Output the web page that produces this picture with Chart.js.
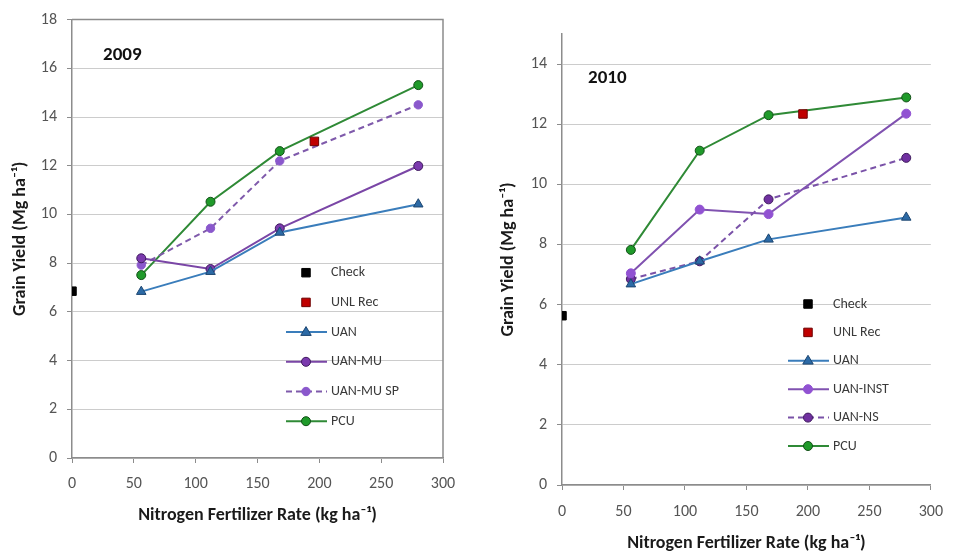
<!DOCTYPE html>
<html>
<head>
<meta charset="utf-8">
<script src="https://cdn.jsdelivr.net/npm/chart.js@4.4.1/dist/chart.umd.min.js"></script>
<style>
  body { margin: 0; background: #fff; }
  #wrap { position: relative; width: 955px; height: 552px; }
  #c2009 { position: absolute; left: 0; top: 0; }
  #c2010 { position: absolute; left: 480px; top: 0; }
</style>
</head>
<body>
<div id="wrap">
  <canvas id="c2009" width="480" height="552"></canvas>
  <canvas id="c2010" width="475" height="552"></canvas>
</div>
<script>
// DATA
const rates = [56, 112, 168, 280];
const xTicks = [0, 50, 100, 150, 200, 250, 300];

const check2009 = [6.85];
const unlRate2009 = [196];
const unlYield2009 = [13.0];
const uan2009 = [6.83, 7.65, 9.26, 10.42];
const uanMu2009 = [8.2, 7.76, 9.43, 11.99];
const uanMuSp2009 = [7.92, 9.43, 12.2, 14.5];
const pcu2009 = [7.51, 10.52, 12.6, 15.31];

const check2010 = [5.63];
const unlRate2010 = [196];
const unlYield2010 = [12.34];
const uan2010 = [6.68, 7.44, 8.17, 8.9];
const uanInst2010 = [7.04, 9.16, 9.01, 12.35];
const uanNs2010 = [6.85, 7.44, 9.5, 10.88];
const pcu2010 = [7.82, 11.12, 12.3, 12.89];

const FONT = "Carlito, Lato, 'Open Sans', sans-serif";
const GRID = '#cccccc';
const AXIS = '#8c8c8c';

const pts = (xs, ys) => ys.map((y, i) => ({ x: xs[i], y: y }));

// marker drawer used by the legend
function drawMarker(ctx, o, x, y) {
  const r = o.pointRadius;
  ctx.save();
  ctx.fillStyle = o.pointBackgroundColor;
  ctx.strokeStyle = o.pointBorderColor;
  ctx.lineWidth = o.pointBorderWidth;
  ctx.setLineDash([]);
  ctx.beginPath();
  if (o.pointStyle === 'rect') {
    const s = Math.SQRT1_2 * r;
    ctx.rect(x - s, y - s, 2 * s, 2 * s);
  } else if (o.pointStyle === 'triangle') {
    ctx.moveTo(x, y - r);
    ctx.lineTo(x + r * 0.95, y + r * 0.6);
    ctx.lineTo(x - r * 0.95, y + r * 0.6);
    ctx.closePath();
  } else {
    ctx.arc(x, y, r, 0, Math.PI * 2);
  }
  ctx.fill();
  if (o.pointBorderWidth) ctx.stroke();
  ctx.restore();
}

// in-plot legend and year label
const sideLegend = {
  id: 'sideLegend',
  afterDraw(chart, args, opts) {
    const ctx = chart.ctx;
    ctx.save();
    ctx.font = 'bold 19px ' + FONT;
    ctx.fillStyle = '#111';
    ctx.textBaseline = 'middle';
    ctx.fillText(opts.year, opts.yearX, opts.yearY);

    ctx.font = '14px ' + FONT;
    chart.data.datasets.forEach((d, i) => {
      const y = opts.y0 + i * opts.dy;
      if (d.showLine) {
        ctx.save();
        ctx.strokeStyle = d.borderColor;
        ctx.lineWidth = d.borderWidth;
        ctx.setLineDash(d.borderDash || []);
        ctx.beginPath();
        ctx.moveTo(opts.x - 20, y);
        ctx.lineTo(opts.x + 21, y);
        ctx.stroke();
        ctx.restore();
      }
      drawMarker(ctx, d, opts.x, y);
      ctx.fillStyle = '#3a3a3a';
      ctx.fillText(d.label, opts.x + 25, y);
    });
    ctx.restore();
  }
};

const plotBox = {
  id: 'plotBox',
  afterDatasetsDraw(chart, args, opts) {
    if (!opts.show) return;
    const a = chart.chartArea, ctx = chart.ctx;
    ctx.save();
    ctx.strokeStyle = AXIS;
    ctx.lineWidth = 1.5;
    ctx.beginPath();
    ctx.moveTo(a.left, a.top);
    ctx.lineTo(a.right, a.top);
    ctx.lineTo(a.right, a.bottom);
    ctx.stroke();
    ctx.restore();
  }
};

function lineSet(label, data, color, style, fill, edge, r, dash) {
  return {
    label: label, data: pts(rates, data), showLine: true,
    borderColor: color, borderWidth: 2, borderDash: dash || [],
    pointStyle: style, pointRadius: r, pointBackgroundColor: fill,
    pointBorderColor: edge, pointBorderWidth: 1
  };
}

function markSet(label, xs, ys, fill, edge) {
  return {
    label: label, data: pts(xs, ys), showLine: false,
    pointStyle: 'rect', pointRadius: 6, pointBackgroundColor: fill,
    pointBorderColor: edge, pointBorderWidth: 1, borderColor: fill
  };
}

function buildChart(id, sets, yMax, geo) {
  new Chart(document.getElementById(id), {
    type: 'scatter',
    data: { datasets: sets },
    plugins: [sideLegend, plotBox],
    options: {
      responsive: false,
      animation: false,
      layout: { padding: geo.pad },
      plugins: {
        legend: { display: false },
        tooltip: { enabled: false },
        sideLegend: geo.legend,
        plotBox: { show: geo.box }
      },
      scales: {
        x: {
          type: 'linear', min: 0, max: 300,
          afterBuildTicks: s => { s.ticks = xTicks.map(v => ({ value: v })); },
          ticks: { color: '#555', font: { family: FONT, size: 16 }, padding: geo.xPad },
          grid: { drawOnChartArea: false, tickLength: 5, color: AXIS },
          border: { color: AXIS, width: 1.5 },
          title: {
            display: true, text: 'Nitrogen Fertilizer Rate (kg ha\u207B\u00B9)',
            color: '#1a1a1a', font: { family: FONT, size: 18, weight: 'bold', lineHeight: 1 },
            padding: { top: 0, bottom: geo.xTitlePad }
          },
          afterFit: s => { s.height = geo.xHeight; }
        },
        y: {
          min: 0, max: yMax,
          ticks: {
            stepSize: 2, color: '#555', font: { family: FONT, size: 16 }, padding: 10,
            callback: v => (v % 2 === 0 ? v : '')
          },
          grid: {
            tickLength: 5,
            color: c => (c.tick && c.tick.value % 2 === 0 ? GRID : 'rgba(0,0,0,0)'),
            tickColor: c => (c.tick && c.tick.value % 2 === 0 ? AXIS : 'rgba(0,0,0,0)')
          },
          border: { color: AXIS, width: 1.5 },
          title: {
            display: true, text: 'Grain Yield (Mg ha\u207B\u00B9)',
            color: '#1a1a1a', font: { family: FONT, size: 18, weight: 'bold', lineHeight: 1 },
            padding: { top: 4, bottom: 0 }
          },
          afterFit: s => { s.width = geo.yWidth; }
        }
      }
    }
  });
}

// 2009
buildChart('c2009', [
  markSet('Check', [0], check2009, '#000000', '#000000'),
  markSet('UNL Rec', unlRate2009, unlYield2009, '#c00000', '#6d0000'),
  lineSet('UAN', uan2009, '#3a7dbb', 'triangle', '#2c6aa6', '#1d4670', 5.5),
  lineSet('UAN-MU', uanMu2009, '#7a46a6', 'circle', '#7b3aae', '#3f1b5e', 4.5),
  lineSet('UAN-MU SP', uanMuSp2009, '#7f5aab', 'circle', '#8a58cc', '#8a58cc', 4.2, [6, 4]),
  lineSet('PCU', pcu2009, '#2f8a36', 'circle', '#1f9a2a', '#124f17', 4.5)
], 18, {
  pad: { left: 7, right: 37, top: 19, bottom: 24 },
  xHeight: 70, yWidth: 65, xPad: 11, xTitlePad: 4, box: true,
  legend: { year: '2009', yearX: 103, yearY: 55, x: 306, y0: 272.7, dy: 29.7 }
});

// 2010
buildChart('c2010', [
  markSet('Check', [0], check2010, '#000000', '#000000'),
  markSet('UNL Rec', unlRate2010, unlYield2010, '#c00000', '#6d0000'),
  lineSet('UAN', uan2010, '#3a7dbb', 'triangle', '#2c6aa6', '#1d4670', 5.5),
  lineSet('UAN-INST', uanInst2010, '#8052b0', 'circle', '#9152d2', '#9152d2', 4.5),
  lineSet('UAN-NS', uanNs2010, '#7a52a8', 'circle', '#7030a0', '#3f1b5e', 4.5, [6, 4]),
  lineSet('PCU', pcu2010, '#2f8a36', 'circle', '#1f9a2a', '#124f17', 4.5)
], 15, {
  pad: { left: 15, right: 14, top: 34, bottom: 0 },
  xHeight: 67, yWidth: 67, xPad: 12, xTitlePad: 0, box: false,
  legend: { year: '2010', yearX: 108, yearY: 78, x: 328, y0: 304, dy: 28.4 }
});
</script>
</body>
</html>
